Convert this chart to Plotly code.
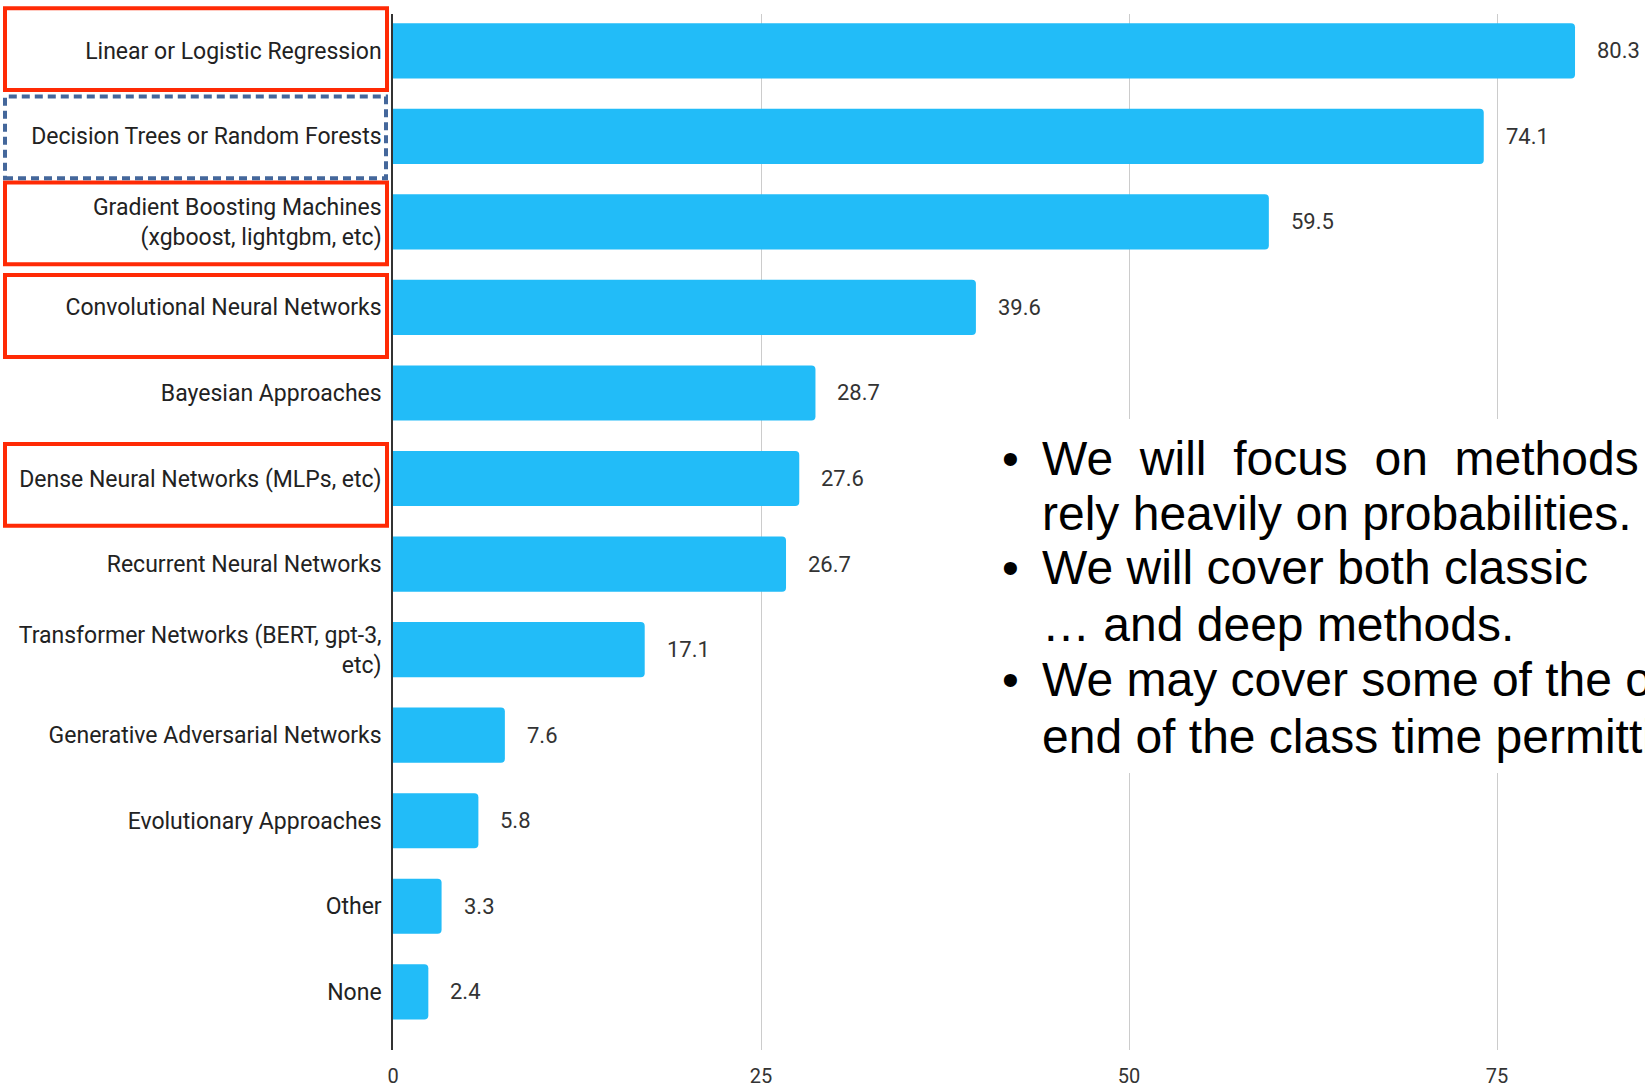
import plotly.graph_objects as go

# ---- data ----
categories = [
    "Linear or Logistic Regression",
    "Decision Trees or Random Forests",
    "Gradient Boosting Machines<br>(xgboost, lightgbm, etc)",
    "Convolutional Neural Networks",
    "Bayesian Approaches",
    "Dense Neural Networks (MLPs, etc)",
    "Recurrent Neural Networks",
    "Transformer Networks (BERT, gpt-3,<br>etc)",
    "Generative Adversarial Networks",
    "Evolutionary Approaches",
    "Other",
    "None",
]
values = [80.3, 74.1, 59.5, 39.6, 28.7, 27.6, 26.7, 17.1, 7.6, 5.8, 3.3, 2.4]
value_labels = ["80.3", "74.1", "59.5", "39.6", "28.7", "27.6", "26.7", "17.1", "7.6", "5.8", "3.3", "2.4"]
x_ticks = [0, 25, 50, 75, 100]

# highlighted categories
highlight_solid = [0, 2, 3, 5]
highlight_dashed = [1]

bullet_lines = [
    ("•", "We \u00a0will \u00a0focus \u00a0on \u00a0methods \u00a0that"),
    ("", "rely heavily on probabilities."),
    ("•", "We will cover both classic"),
    ("", "\u2026 and deep methods."),
    ("•", "We may cover some of the others at the"),
    ("", "end of the class time permitting."),
]

# ---- layout geometry (pixels) ----
W, H = 1645, 1088
L, R, T, B = 393, 0, 14, 38
PW, PH = W - L - R, H - T - B
px_per_unit = 14.72
x_max = PW / px_per_unit
y_top, y_bot = -0.43, 11.68
px_per_cat = PH / (y_bot - y_top)


def px_x(p):
    return (p - L) / PW


def px_y(p):
    return (H - B - p) / PH


def cat_px(c):
    return T + (c - y_top) * px_per_cat


fig = go.Figure()
fig.add_trace(go.Bar(
    x=values,
    y=categories,
    orientation="h",
    width=0.645,
    marker=dict(color="#22BCF8", line=dict(width=0)),
    hoverinfo="x+y",
))

annotations = []
for c, v, t in zip(categories, values, value_labels):
    annotations.append(dict(
        x=v, y=c, xref="x", yref="y", text=t, showarrow=False,
        xanchor="left", yanchor="middle", xshift=20,
        font=dict(family="Roboto", size=22, color="#333333"),
    ))

# bullet text block
line_y = [458, 513, 568, 624, 680, 736]
for (b, txt), ly in zip(bullet_lines, line_y):
    if b:
        annotations.append(dict(
            x=px_x(1010), y=px_y(ly), xref="paper", yref="paper", text=b,
            showarrow=False, xanchor="center", yanchor="middle",
            font=dict(family="Arial, Liberation Sans", size=48, color="#000000"),
        ))
    annotations.append(dict(
        x=px_x(1040), y=px_y(ly), xref="paper", yref="paper", text=txt,
        showarrow=False, xanchor="left", yanchor="middle",
        font=dict(family="Arial, Liberation Sans", size=48, color="#000000"),
    ))

shapes = []
# white panel behind text (hides gridlines)
shapes.append(dict(
    type="rect", xref="paper", yref="paper",
    x0=px_x(1000), x1=1.0, y0=px_y(773), y1=px_y(419),
    fillcolor="white", line=dict(width=0), layer="above",
))

box_offsets = {0: -0.02, 1: 0.013, 2: 0.018, 3: 0.1, 5: 0.075}
half = 0.478
for i in highlight_solid:
    c = i + box_offsets[i]
    shapes.append(dict(
        type="rect", xref="paper", yref="paper",
        x0=px_x(5), x1=px_x(387),
        y0=px_y(cat_px(c + half)), y1=px_y(cat_px(c - half)),
        line=dict(color="#FF2A05", width=4), fillcolor="rgba(0,0,0,0)", layer="above",
    ))
for i in highlight_dashed:
    c = i + box_offsets[i]
    shapes.append(dict(
        type="rect", xref="paper", yref="paper",
        x0=px_x(5), x1=px_x(386),
        y0=px_y(cat_px(c + half)), y1=px_y(cat_px(c - half)),
        line=dict(color="#44679B", width=4, dash="8px,5px"),
        fillcolor="rgba(0,0,0,0)", layer="above",
    ))

fig.update_layout(
    width=W, height=H, autosize=False,
    margin=dict(l=L, r=R, t=T, b=B, pad=0),
    paper_bgcolor="white", plot_bgcolor="white",
    showlegend=False,
    barcornerradius=4,
    font=dict(family="Roboto", size=20, color="#222222"),
    xaxis=dict(
        range=[0, x_max], tickvals=x_ticks, ticktext=[str(t) for t in x_ticks],
        showgrid=True, gridcolor="#CCCCCC", gridwidth=1.3,
        zeroline=False, showline=False, ticks="",
        tickfont=dict(family="Roboto", size=20, color="#333333"),
        ticklabelstandoff=12,
    ),
    yaxis=dict(
        categoryorder="array", categoryarray=categories,
        range=[y_bot, y_top],
        showgrid=False, zeroline=False,
        showline=True, linecolor="#333333", linewidth=1.5,
        ticks="", ticklabelstandoff=5,
        tickfont=dict(family="Roboto", size=23, color="#222222"),
    ),
    annotations=annotations,
    shapes=shapes,
)

fig.write_html("out.html")
